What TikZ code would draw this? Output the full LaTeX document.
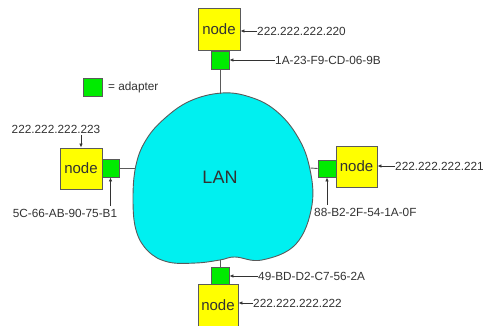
\documentclass[tikz,border=0pt]{standalone}
\usepackage{fontspec}
\setmainfont{Liberation Sans}
\usetikzlibrary{arrows.meta}
\definecolor{nodeyellow}{RGB}{255,255,0}
\definecolor{adgreen}{RGB}{0,235,0}
\definecolor{lancyan}{RGB}{0,240,240}
\definecolor{txt}{RGB}{50,50,50}
\definecolor{edge}{RGB}{90,90,90}
\tikzset{
  hostbox/.style={draw=edge, line width=0.9pt, fill=nodeyellow, minimum width=42pt, minimum height=42pt, inner sep=0pt, text=txt, font=\fontsize{15}{16}\selectfont},
  adbox/.style={draw=edge, line width=0.9pt, fill=adgreen, minimum width=18pt, minimum height=18pt, inner sep=0pt},
  lbl/.style={text=txt, inner sep=0pt, font=\fontsize{11.8}{13}\selectfont},
  pointer/.style={draw=txt, line width=0.7pt, -{Latex[length=4pt,width=3.5pt]}},
  wire/.style={draw=edge, line width=0.9pt}
}
\begin{document}
\begin{tikzpicture}[x=1pt, y=-1pt]
\useasboundingbox (0,0) rectangle (484,326);
% LAN cloud
\draw[draw=edge, line width=0.9pt, fill=lancyan] plot[smooth cycle, tension=0.65] coordinates {
  (222,93) (250,97) (275,110) (296,134) (309,165) (312,205) (296,244) (262,260)
  (235,257) (220,260) (196,263) (168,262) (148,251) (136,230) (133,198)
  (136,165) (146,140) (164,119) (190,101)};
\node[text=txt, font=\fontsize{18}{20}\selectfont] (lan) at (220,177) {LAN};
\coordinate (ctop) at (220,94);
\coordinate (cleft) at (134.5,168);
\coordinate (cright) at (310.5,168);
\coordinate (cbot) at (220,259.5);

% top host
\node[hostbox] (tbox) at (219,29) {node};
\node[adbox] (tad) at (220,60) {};
\draw[wire] (tad.south) -- (ctop);
\node[lbl, anchor=west] (tip) at (257,31) {222.222.222.220};
\node[lbl, anchor=west] (tmac) at (275,60) {1A-23-F9-CD-06-9B};
\draw[pointer] (tip.west) -- (tbox.east |- tip.west);
\draw[pointer] (tmac.west) -- (tad.east);

% legend
\node[adbox, minimum width=19pt] (legad) at (92.5,87) {};
\node[lbl, anchor=west] (legtxt) at (108,87) {= adapter};

% left host
\node[hostbox, minimum height=41pt] (lbox) at (81,168.5) {node};
\node[adbox, minimum width=17pt] (lad) at (110.5,168) {};
\draw[wire] (lad.east) -- (cleft);
\node[lbl] (lip) at (56,129) {222.222.222.223};
\node[lbl] (lmac) at (65,213.5) {5C-66-AB-90-75-B1};
\draw[pointer] (lbox.north |- lip.south) ++(0,2) -- (lbox.north);
\draw[pointer] (lad.south |- lmac.north) ++(0,-3) -- (lad.south);

% right host
\node[adbox, minimum height=17pt] (rad) at (327,168.5) {};
\node[hostbox, minimum width=41pt, minimum height=41pt] (rbox) at (356.5,166.5) {node};
\draw[wire] (rad.west) -- (cright);
\node[lbl, anchor=west] (rip) at (395,166) {222.222.222.221};
\node[lbl, anchor=west] (rmac) at (314,212) {88-B2-2F-54-1A-0F};
\draw[pointer] (rip.west) -- (rbox.east |- rip.west);
\draw[pointer] (rad.south |- rmac.north) ++(0,-3) -- (rad.south);

% bottom host
\node[adbox, minimum height=17pt] (bad) at (220,275.5) {};
\node[hostbox, minimum width=40pt] (bbox) at (218,305) {node};
\draw[wire] (bad.north) -- (cbot);
\node[lbl, anchor=west] (bmac) at (258,276) {49-BD-D2-C7-56-2A};
\node[lbl, anchor=west] (bip) at (253,303) {222.222.222.222};
\draw[pointer] (bmac.west) -- (bad.east |- bmac.west);
\draw[pointer] (bip.west) -- (bbox.east |- bip.west);
\end{tikzpicture}
\end{document}
